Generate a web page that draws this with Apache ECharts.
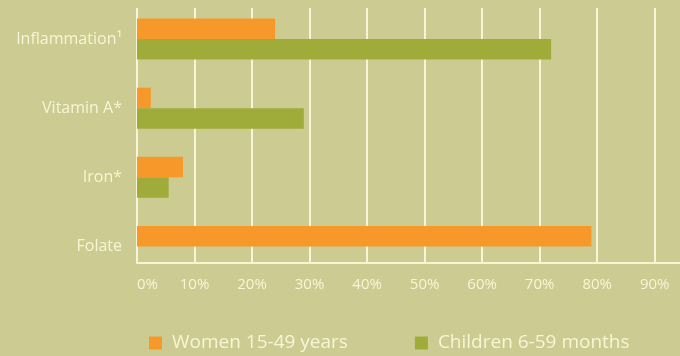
<!DOCTYPE html>
<html>
<head>
<meta charset="utf-8">
<script src="https://cdn.jsdelivr.net/npm/echarts@6/dist/echarts.min.js"></script>
<style>
html,body{margin:0;padding:0;background:#cccb92;}
#c{width:680px;height:356px;}
</style>
</head>
<body>
<div id="c"></div>
<script>
var categories = ['Inflammation\u00b9', 'Vitamin A*', 'Iron*', 'Folate'];
var women = [24, 2.4, 8, 79];
var children = [72, 29, 5.5, null];
var xTicks = [0, 10, 20, 30, 40, 50, 60, 70, 80, 90];
var xMax = 94.4;
var seriesNames = ['Women 15-49 years', 'Children 6-59 months'];

var cream = '#f8f5d6';
var font = 'Open Sans';
var chart = echarts.init(document.getElementById('c'), null, {renderer: 'canvas'});
chart.setOption({
  backgroundColor: '#cccb92',
  animation: false,
  textStyle: {fontFamily: font},
  legend: {
    left: 144, top: 328,
    itemWidth: 13, itemHeight: 13, itemGap: 67,
    icon: 'rect',
    data: seriesNames,
    textStyle: {color: cream, fontSize: 19, fontFamily: font, lineHeight: 20, padding: [0, 0, 0, 5]}
  },
  grid: [
    {left: 137, right: 0, top: 4.5, bottom: 75},
    {left: 137, right: 0, top: 8, bottom: 93}
  ],
  xAxis: [
    {gridIndex: 0, type: 'value', min: xTicks[0], max: xMax, interval: 10,
     axisLine: {show: false}, axisTick: {show: false}, axisLabel: {show: false}, splitLine: {show: false}},
    {gridIndex: 1, type: 'value', min: xTicks[0], max: xMax, interval: 10,
     axisLine: {show: true, lineStyle: {color: cream, width: 2}},
     axisTick: {show: false},
     axisLabel: {color: cream, fontSize: 15, fontFamily: font, margin: 14, formatter: '{value}%',
                 showMaxLabel: false, alignMinLabel: 'left'},
     splitLine: {show: true, showMaxLine: false, lineStyle: {color: cream, width: 2}}}
  ],
  yAxis: [
    {gridIndex: 0, type: 'category', data: categories, inverse: true,
     axisLine: {show: false}, axisTick: {show: false},
     axisLabel: {color: cream, fontSize: 16, fontFamily: font, margin: 15}},
    {gridIndex: 1, type: 'value', min: 0, max: 1,
     axisLine: {show: false}, axisTick: {show: false}, axisLabel: {show: false}, splitLine: {show: false}}
  ],
  series: [
    {name: seriesNames[0], type: 'bar', xAxisIndex: 0, yAxisIndex: 0, data: women,
     barWidth: 20.5, barGap: '0%', itemStyle: {color: '#f7982a'}, z: 5},
    {name: seriesNames[1], type: 'bar', xAxisIndex: 0, yAxisIndex: 0, data: children,
     barWidth: 20.5, barGap: '0%', itemStyle: {color: '#a0ac3a'}, z: 5}
  ]
});
</script>
</body>
</html>
